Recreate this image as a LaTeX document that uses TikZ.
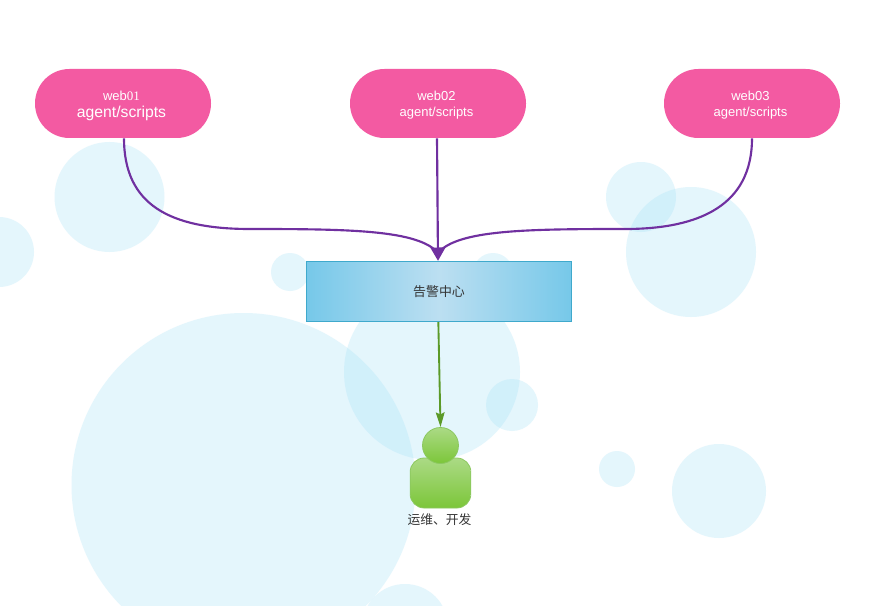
\documentclass[tikz,border=0pt]{standalone}
\usepackage{fontspec}
\setmainfont{Liberation Sans}
\newfontfamily\cjk{Noto Sans CJK SC}
\newfontfamily\digitfont{Liberation Serif}
\usetikzlibrary{arrows.meta}
\definecolor{pillpink}{HTML}{F35AA2}
\definecolor{bubble}{HTML}{ACE4F8}
\definecolor{linkpurple}{HTML}{7030A0}
\definecolor{linkgreen}{HTML}{5B9A28}
\definecolor{boxedge}{HTML}{3FA9CC}
\definecolor{textdark}{HTML}{333333}
\definecolor{personlight}{HTML}{ABDA85}
\definecolor{persondark}{HTML}{7CC639}
\definecolor{personedge}{HTML}{8CC860}
\definecolor{shademid}{HTML}{BCDFF1}
\definecolor{shadeside}{HTML}{76C8E9}
\tikzset{
  bub/.style={fill=bubble,fill opacity=0.32,draw=none},
  pill/.style={fill=pillpink,draw=none,minimum width=132pt,minimum height=51.75pt,
    rounded corners=25.8pt,inner sep=0pt},
  pilltext/.style={text=white,font=\fontsize{9.75}{12.2}\selectfont,align=center,inner sep=0pt},
  alarm/.style={left color=shadeside,right color=shadeside,middle color=shademid,draw=boxedge,line width=0.75pt,
    minimum width=199pt,minimum height=45.25pt,
    inner sep=0pt,text=textdark,font=\cjk\fontsize{9.7}{11}\selectfont},
  personpart/.style={draw=personedge,line width=0.6pt,
    top color=personlight,bottom color=persondark,inner sep=0pt},
  feed/.style={draw=linkpurple,line width=1.6pt},
  notify/.style={draw=linkgreen,line width=1.4pt,-{Stealth[length=11pt,width=6.5pt,inset=1.5pt]}},
}
\begin{document}
\begin{tikzpicture}[x=0.75pt,y=-0.75pt]
\useasboundingbox (0,0) rectangle (877,606);
\fill[white] (0,0) rectangle (877,606);
\begin{scope}
\clip (0,0) rectangle (877,606);
\foreach \cx/\cy/\r in {109.5/197/55,-1/252/35,290/272/19,493/273/20,641/197/35,691/252/65,
  432/372/88,243.5/485/172,512/405/26,617/469/18,719/491/47,405/627/43}
  \fill[bub] (\cx,\cy) circle[radius=\r*0.75pt];
\end{scope}

\node[pill] (web1) at (123,103.5) {};
\node[pill] (web2) at (438,103.5) {};
\node[pill] (web3) at (752,103.5) {};
\node[pilltext] (label1) at (121.5,106) {\fontsize{9.75}{14.5}\selectfont web{\digitfont 01}\\{\fontsize{11.8}{14.5}\selectfont agent/scripts}};
\node[pilltext] (label2) at (436.5,105.5) {web02\\agent/scripts};
\node[pilltext] (label3) at (750.5,105.5) {web03\\agent/scripts};
\node[alarm] (center) at (439,291.5) {告警中心};
\node[personpart,minimum width=45.5pt,minimum height=37.5pt,rounded corners=10.5pt] (body) at (440.5,483) {};
\node[personpart,circle,minimum size=27pt] (head) at (440.5,445.5) {};
\node[text=textdark,font=\cjk\fontsize{9.6}{11}\selectfont,inner sep=0pt] (caption) at (439.5,520) {运维、开发};

\draw[feed] ([xshift=0.75pt]web1.south) .. controls (124,205) and (170,229) .. (250,229)
  .. controls (350,229) and (418,230) .. ([xshift=-0.75pt,yshift=6pt]center.north);
\draw[feed] (web3.south) .. controls (752,205) and (700,229) .. (625,229)
  .. controls (525,229) and (458,230) .. ([xshift=-0.75pt,yshift=6pt]center.north);
\draw[feed,-{Triangle[length=10pt,width=11pt]}] ([xshift=-0.75pt]web2.south) -- ([xshift=-0.75pt]center.north);
\draw[notify] ([xshift=-0.5pt]center.south) -- (head.north);
\end{tikzpicture}
\end{document}
